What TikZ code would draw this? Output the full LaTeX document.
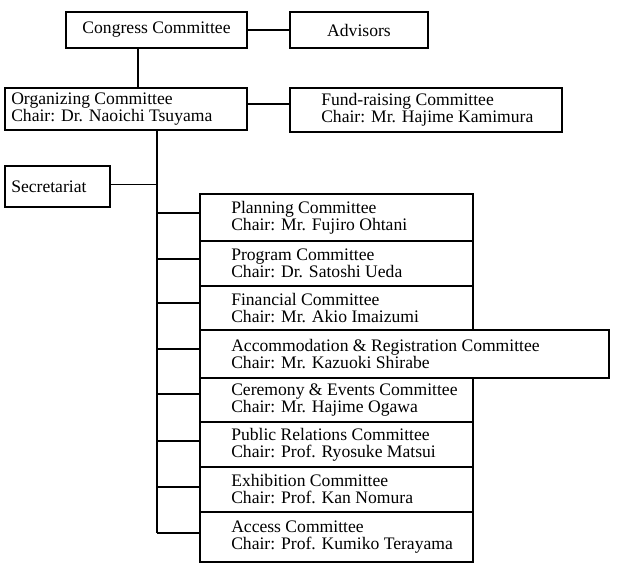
\documentclass[tikz,border=0pt]{standalone}
\usepackage{fontspec}
\setmainfont{Liberation Serif}
\begin{document}
\begin{tikzpicture}[x=1pt,y=-1pt,
  box/.style={draw, line width=1.9pt, inner sep=0pt, font=\fontsize{17.6}{17}\selectfont},
  txt/.style={inner sep=0pt, align=left, font=\fontsize{17.6}{17}\selectfont, anchor=west},
  ln/.style={line width=1.9pt}]
\useasboundingbox[fill=white] (0,0) rectangle (624,572);
% top row
\node[box, minimum width=181pt, minimum height=36pt] (cong) at (156.5,30) {Congress Committee};
\node[box, minimum width=138pt, minimum height=36pt] (adv) at (359,30) {Advisors};
% second row
\node[box, minimum width=242pt, minimum height=42pt] (org) at (126,109) {};
\node[txt] (orgt) at ([xshift=7pt]org.west) {Organizing Committee\\Chair: Dr. Naoichi Tsuyama};
\node[box, minimum width=272pt, minimum height=44pt] (fund) at (426,110) {};
\node[txt] (fundt) at ([xshift=32pt]fund.west) {Fund-raising Committee\\Chair: Mr. Hajime Kamimura};
% secretariat
\node[box, minimum width=105pt, minimum height=41pt] (sec) at (57.5,186.5) {};
\node[txt] (sect) at ([xshift=7pt]sec.west) {Secretariat};
% committees
\node[box, minimum width=273pt, minimum height=47pt] (plan) at (336.5,217.5) {};
\node[txt] (plant) at ([xshift=32pt]plan.west) {Planning Committee\\Chair: Mr. Fujiro Ohtani};
\node[box, minimum width=273pt, minimum height=45pt] (prog) at (336.5,263.5) {};
\node[txt] (progt) at ([xshift=32pt]prog.west) {Program Committee\\Chair: Dr. Satoshi Ueda};
\node[box, minimum width=273pt, minimum height=44pt] (fin) at (336.5,308) {};
\node[txt] (fint) at ([xshift=32pt]fin.west) {Financial Committee\\Chair: Mr. Akio Imaizumi};
\node[box, minimum width=409pt, minimum height=48pt] (accm) at (404.5,354) {};
\node[txt] (accmt) at ([xshift=32pt]accm.west) {Accommodation \& Registration Committee\\Chair: Mr. Kazuoki Shirabe};
\node[box, minimum width=273pt, minimum height=44pt] (cer) at (336.5,400) {};
\node[txt] (cert) at ([xshift=32pt]cer.west) {Ceremony \& Events Committee\\Chair: Mr. Hajime Ogawa};
\node[box, minimum width=273pt, minimum height=45pt] (pub) at (336.5,444.5) {};
\node[txt] (pubt) at ([xshift=32pt]pub.west) {Public Relations Committee\\Chair: Prof. Ryosuke Matsui};
\node[box, minimum width=273pt, minimum height=45pt] (exh) at (336.5,489.5) {};
\node[txt] (exht) at ([xshift=32pt]exh.west) {Exhibition Committee\\Chair: Prof. Kan Nomura};
\node[box, minimum width=273pt, minimum height=50pt] (accs) at (336.5,537) {};
\node[txt] (accst) at ([xshift=32pt]accs.west) {Access Committee\\Chair: Prof. Kumiko Terayama};
% connectors
\coordinate (trtop) at (157,130);
\coordinate (trbot) at (157,533);
\draw[ln] (cong.east) -- (adv.west);
\draw[ln] ([xshift=-18.5pt]cong.south) -- ([xshift=-18.5pt]cong.south |- org.north);
\draw[ln] ([yshift=5pt]org.east) -- ([yshift=5pt]org.east -| fund.west);
\draw[ln] (trtop) -- (trbot);
\draw[ln] ([yshift=2pt]sec.east) -- ([yshift=2pt]sec.east -| trtop);
\draw[ln] ([yshift=4.5pt]plan.west) -- ([yshift=4.5pt]plan.west -| trtop);
\draw[ln] ([yshift=4.5pt]prog.west) -- ([yshift=4.5pt]prog.west -| trtop);
\draw[ln] ([yshift=5pt]fin.west) -- ([yshift=5pt]fin.west -| trtop);
\draw[ln] ([yshift=5pt]accm.west) -- ([yshift=5pt]accm.west -| trtop);
\draw[ln] ([yshift=6pt]cer.west) -- ([yshift=6pt]cer.west -| trtop);
\draw[ln] ([yshift=3.5pt]pub.west) -- ([yshift=3.5pt]pub.west -| trtop);
\draw[ln] ([yshift=2.5pt]exh.west) -- ([yshift=2.5pt]exh.west -| trtop);
\draw[ln] ([yshift=4pt]accs.west) -- (trbot);
\end{tikzpicture}
\end{document}
